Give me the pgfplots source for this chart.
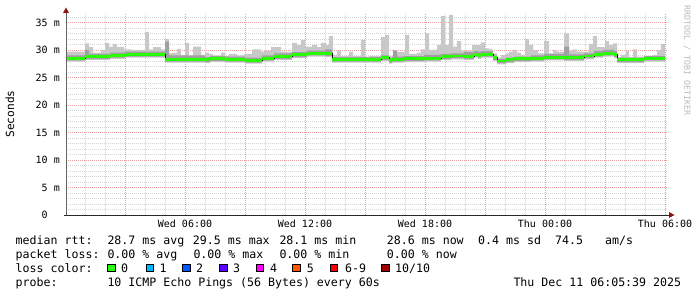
\documentclass[border=0pt]{standalone}
\usepackage{fontspec}
\setmainfont{DejaVu Sans Mono}
\usepackage{pgfplots}
\pgfplotsset{compat=1.18}
\usepackage{pgfplotstable}
\usepgfplotslibrary{fillbetween}
\usetikzlibrary{arrows.meta}

\definecolor{lgray}{RGB}{200,200,200}
\definecolor{mgray}{RGB}{160,160,160}
\definecolor{majgrid}{RGB}{234,155,155}
\definecolor{mingrid}{RGB}{212,212,212}
\definecolor{arrowred}{RGB}{140,20,20}
\definecolor{xaxc}{RGB}{40,40,40}
\definecolor{yaxc}{RGB}{100,100,100}
\definecolor{wmgray}{RGB}{185,185,185}
\definecolor{loss0}{RGB}{38,255,0}
\definecolor{loss1}{RGB}{0,184,255}
\definecolor{loss2}{RGB}{0,89,255}
\definecolor{loss3}{RGB}{94,0,255}
\definecolor{loss4}{RGB}{255,0,255}
\definecolor{loss5}{RGB}{255,85,0}
\definecolor{loss6}{RGB}{255,0,0}
\definecolor{loss10}{RGB}{161,0,0}

\newcommand{\legfont}{\fontsize{11.6bp}{14bp}\selectfont}
\newcommand{\tickfont}{\fontsize{10bp}{12bp}\selectfont}

% median line and smoke bands (ms), x in hours since Wed 00:00
\pgfplotstableread{
x med lo mlo mhi
0.05 28.5 27.9 28.1 29.0
1.0 28.8 28.2 28.4 30.0
1.2 28.8 28.2 28.4 29.3
2.25 29.0 28.4 28.6 29.5
3.0 29.2 28.6 28.8 29.7
5.0 28.3 27.7 27.9 31.5
5.2 28.3 27.7 27.9 29.0
7.0 28.2 27.6 27.8 28.7
7.25 28.4 27.8 28.0 28.9
8.0 28.3 27.7 27.9 28.8
9.0 28.1 27.5 27.7 28.6
9.85 28.45 27.9 28.1 29.0
10.45 28.8 28.2 28.4 29.4
11.35 29.1 28.5 28.7 29.6
12.1 29.4 28.8 29.0 29.9
13.0 29.4 28.7 28.9 30.1
13.35 28.3 27.7 27.9 28.7
15.8 28.6 28.0 28.2 29.0
16.2 28.1 27.5 27.7 28.5
16.35 28.3 27.7 27.9 28.7
16.4 28.3 27.7 27.9 29.9
16.6 28.3 27.7 27.9 28.8
16.95 28.4 27.8 28.0 28.9
17.95 28.5 27.9 28.1 29.1
18.8 28.8 28.2 28.4 29.3
19.3 28.9 28.3 28.5 29.4
19.95 28.8 28.2 28.4 29.6
20.45 29.2 28.6 28.8 29.8
20.65 29.0 28.4 28.6 29.7
20.8 29.2 28.6 28.8 29.8
21.4 28.6 28.0 28.2 29.0
21.6 28.0 27.4 27.6 28.4
22.05 28.2 27.6 27.8 28.6
22.45 28.4 27.8 28.0 28.8
23.3 28.5 27.9 28.1 29.0
23.95 28.7 28.1 28.3 29.3
24.95 28.6 28.0 28.2 30.6
25.2 28.6 28.0 28.2 29.2
25.95 28.9 28.3 28.5 29.4
26.45 29.2 28.6 28.8 29.8
26.9 29.4 28.8 29.0 30.0
27.45 29.1 28.5 28.7 29.8
27.6 28.2 27.6 27.8 28.6
28.95 28.5 27.9 28.1 28.9
30.0 28.5 27.9 28.1 28.9
}\medtab

% maximum (top of light smoke)
\pgfplotstableread{
x hi
0.05 29.7
1.0 31.2
1.2 30.5
1.4 29.5
1.8 30.0
2.0 31.3
2.2 30.6
2.4 31.1
2.6 30.5
2.95 30.1
3.3 30.0
4.0 33.3
4.2 30.1
4.4 30.5
4.8 30.1
5.0 32.0
5.2 29.4
5.35 29.5
5.6 30.2
5.8 29.0
6.0 31.3
6.2 28.9
6.4 30.6
6.8 29.1
7.0 29.5
7.2 29.3
7.4 29.0
7.8 29.5
8.0 28.9
8.2 29.3
8.6 29.0
8.95 29.3
9.35 30.1
9.8 29.7
9.95 29.9
10.3 30.5
10.8 29.7
11.35 31.3
11.6 30.9
11.8 31.8
12.0 30.6
12.35 30.9
12.6 30.5
12.8 31.3
13.05 30.9
13.2 32.5
13.4 29.1
13.6 29.9
13.8 28.9
14.2 29.7
14.4 28.9
14.8 31.8
15.0 28.8
15.2 28.9
15.8 32.4
16.0 32.7
16.2 28.9
16.4 30.0
16.6 29.6
17.0 32.7
17.2 29.3
17.6 29.5
17.8 30.1
18.0 33.0
18.2 30.0
18.6 30.9
18.8 36.2
19.0 30.9
19.2 36.4
19.4 30.6
19.6 31.6
19.8 29.9
20.35 30.9
20.8 31.4
21.0 30.3
21.2 30.1
21.4 29.4
21.6 28.6
21.8 29.1
22.05 29.4
22.2 29.7
22.4 30.0
22.6 29.5
22.8 29.1
23.0 32.0
23.2 30.9
23.4 30.0
23.65 29.4
23.95 31.6
24.2 29.4
24.4 30.0
24.6 29.7
24.95 33.0
25.2 29.9
25.4 30.1
25.6 29.7
26.2 31.1
26.4 32.5
26.6 30.5
27.0 31.6
27.2 30.9
27.4 31.2
27.6 28.7
27.8 29.1
28.05 29.9
28.2 28.7
28.4 30.1
28.6 28.8
28.95 28.9
29.35 29.1
29.6 30.0
29.8 31.1
30.0 31.1
}\hitab

\begin{document}
\begin{tikzpicture}[x=1bp,y=1bp]
\begin{axis}[
  at={(66bp,82bp)}, anchor=south west,
  scale only axis, width=602bp, height=202bp,
  xmin=0.05, xmax=30.15, ymin=0, ymax=36.727,
  axis x line*=bottom, axis y line*=left,
  axis line style={draw=none},
  xtick={3,6,...,30},
  xticklabels={,Wed 06:00,,Wed 12:00,,Wed 18:00,,Thu 00:00,,Thu 06:00},
  minor xtick={1,2,4,5,7,8,10,11,13,14,16,17,19,20,22,23,25,26,28,29},
  ytick={0,5,...,35},
  yticklabels={0\phantom{ m},5 m,10 m,15 m,20 m,25 m,30 m,35 m},
  minor ytick={1,2,3,4,6,7,8,9,11,12,13,14,16,17,18,19,21,22,23,24,26,27,28,29,31,32,33,34,36},
  grid=both,
  major grid style={draw=majgrid, dash pattern=on 1bp off 1bp, line width=0.8bp},
  minor grid style={draw=mingrid, dash pattern=on 1bp off 1bp, line width=0.8bp},
  major tick length=0pt, minor tick length=0pt,
  tick label style={font=\tickfont, inner sep=0pt},
  xticklabel style={anchor=north}, xticklabel shift=5bp,
  yticklabel style={anchor=east}, yticklabel shift=6bp,
]
\addplot[name path=hiP, draw=none, const plot] table[x=x,y=hi]{\hitab};
\addplot[name path=loP, draw=none, const plot] table[x=x,y=lo]{\medtab};
\addplot[fill=lgray, draw=none] fill between[of=hiP and loP];
\addplot[name path=mhiP, draw=none, const plot] table[x=x,y=mhi]{\medtab};
\addplot[name path=mloP, draw=none, const plot] table[x=x,y=mlo]{\medtab};
\addplot[fill=mgray, draw=none] fill between[of=mhiP and mloP];
\addplot[black, line width=1bp, const plot, mark=none] table[x=x,y=med]{\medtab};
\addplot[loss0, line width=2.9bp, jump mark left, mark=none] table[x=x,y=med]{\medtab};
\end{axis}

% axis lines with arrow heads
\draw[yaxc, line width=0.9bp] (66,82) -- (66,284);
\draw[xaxc, line width=0.9bp] (64,82) -- (669,82);
\fill[arrowred] (63,284) -- (69,284) -- (66,289.5) -- cycle;
\fill[arrowred] (669,79) -- (669,85) -- (674.5,82) -- cycle;

\node[rotate=90, inner sep=0, font=\fontsize{11.2bp}{13bp}\selectfont] at (10,183) {Seconds};
\node[rotate=-90, anchor=west, inner sep=0, text=wmgray, font=\fontsize{8.3bp}{10bp}\selectfont] at (687,292) {RRDTOOL / TOBI OETIKER};

\begin{scope}[every node/.style={anchor=base west, inner sep=0, font=\legfont}]
\node at (15.5,52.7) {median rtt:};
\node at (107.3,52.7) {28.7 ms avg};
\node at (192.7,52.7) {29.5 ms max};
\node at (279.3,52.7) {28.1 ms min};
\node at (386.7,52.7) {28.6 ms now};
\node at (478,52.7) {0.4 ms sd};
\node at (555,52.7) {74.5};
\node at (605,52.7) {am/s};
\node at (15.5,38.7) {packet loss:};
\node at (107.3,38.7) {0.00 \% avg};
\node at (193.3,38.7) {0.00 \% max};
\node at (279.3,38.7) {0.00 \% min};
\node at (386.7,38.7) {0.00 \% now};
\node at (15.5,24.5) {loss color:};
\node at (121,24.5) {0};
\node at (159.3,24.5) {1};
\node at (196,24.5) {2};
\node at (233,24.5) {3};
\node at (270,24.5) {4};
\node at (306.7,24.5) {5};
\node at (345,24.5) {6-9};
\node at (395,24.5) {10/10};
\node at (15.5,10.3) {probe:};
\node at (107.3,10.3) {10 ICMP Echo Pings (56 Bytes) every 60s};
\node at (513.3,10.3) {Thu Dec 11 06:05:39 2025};
\end{scope}
\foreach \bx/\c in {107.3/loss0,146/loss1,182.7/loss2,219.3/loss3,256/loss4,292.7/loss5,330/loss6,381.7/loss10}
  \filldraw[fill=\c, draw=black, line width=0.7bp] (\bx,25.3) rectangle ++(7.7,7.4);

\pgfresetboundingbox
\path[use as bounding box] (0,0) rectangle (697,297);
\end{tikzpicture}
\end{document}
